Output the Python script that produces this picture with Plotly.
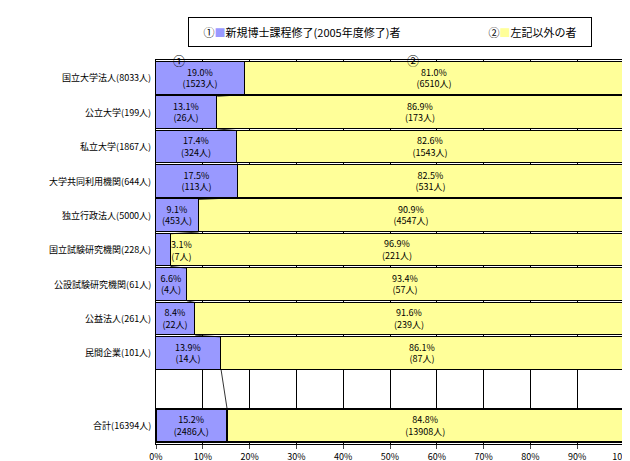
import plotly.graph_objects as go

cats = ["国立大学法人(8033人)", "公立大学(199人)", "私立大学(1867人)", "大学共同利用機関(644人)",
        "独立行政法人(5000人)", "国立試験研究機関(228人)", "公設試験研究機関(61人)",
        "公益法人(261人)", "民間企業(101人)", "合計(16394人)"]
pct1 = [19.0, 13.1, 17.4, 17.5, 9.1, 3.1, 6.6, 8.4, 13.9, 15.2]
pct2 = [81.0, 86.9, 82.6, 82.5, 90.9, 96.9, 93.4, 91.6, 86.1, 84.8]
n1 = [1523, 26, 324, 113, 453, 7, 4, 22, 14, 2486]
n2 = [6510, 173, 1543, 531, 4547, 221, 57, 239, 87, 13908]
ypos = [0, 1, 2, 3, 4, 5, 6, 7, 8, 10.1]

F = "Noto Sans CJK JP"
H = 0.95
lw = [1] * 9 + [2.5]
lab1 = [f"{p:.1f}%<br>({n}人)" if p > 5 else "" for p, n in zip(pct1, n1)]
lab2 = [f"{p:.1f}%<br>({n}人)" for p, n in zip(pct2, n2)]

fig = go.Figure()
fig.add_trace(go.Bar(y=ypos, x=pct1, orientation="h", width=H, marker=dict(color="#9999ff", line=dict(color="black", width=lw)),
                     text=lab1, textposition="inside", insidetextanchor="middle", constraintext="none",
                     textfont=dict(size=9, color="black", family=F), showlegend=False))
fig.add_trace(go.Bar(y=ypos, x=pct2, orientation="h", width=H, marker=dict(color="#ffff99", line=dict(color="black", width=lw)),
                     text=lab2, textposition="inside", insidetextanchor="middle", constraintext="none",
                     textfont=dict(size=9, color="black", family=F), showlegend=False))
for i in range(len(ypos) - 1):
    fig.add_trace(go.Scatter(x=[pct1[i], pct1[i + 1]], y=[ypos[i] + H / 2, ypos[i + 1] - H / 2], mode="lines",
                             line=dict(color="black", width=0.8), showlegend=False, hoverinfo="skip"))

anns = [
    dict(x=5.5, y=5, xref="x", yref="y", text=f"{pct1[5]:.1f}%<br>({n1[5]}人)", showarrow=False, font=dict(size=9)),
    dict(x=5, y=-0.53, xref="x", yref="y", text="①", showarrow=False, yanchor="middle", font=dict(size=12)),
    dict(x=55, y=-0.53, xref="x", yref="y", text="②", showarrow=False, yanchor="middle", font=dict(size=12)),
    dict(x=0.5, y=1.0, xref="paper", yref="paper", yanchor="bottom", yshift=13, showarrow=False,
         text="①<span style='color:#9999ff'>■</span>新規博士課程修了(2005年度修了)者"
              "　　　　　　　　②<span style='color:#ffff99'>■</span>左記以外の者",
         bordercolor="black", borderwidth=1, borderpad=6, bgcolor="white", font=dict(size=11), width=390),
]
fig.update_layout(
    barmode="stack", width=630, height=461, plot_bgcolor="white", paper_bgcolor="white",
    margin=dict(l=148, r=14, t=52, b=25, autoexpand=False), bargap=0,
    font=dict(family=F, size=9, color="black"),
    xaxis=dict(range=[0, 100], tickvals=list(range(0, 101, 10)), ticktext=[f"{v}%" for v in range(0, 101, 10)],
               showgrid=True, gridcolor="black", gridwidth=1, showline=True, linecolor="black", mirror=True,
               ticks="outside", ticklen=4, automargin=False),
    yaxis=dict(range=[10.64, -0.53], tickvals=ypos, ticktext=[c + " " for c in cats], showgrid=False,
               showline=True, linecolor="black", mirror=True, ticks="", zeroline=False, automargin=False),
    annotations=anns,
)
fig.write_html("out.html")
